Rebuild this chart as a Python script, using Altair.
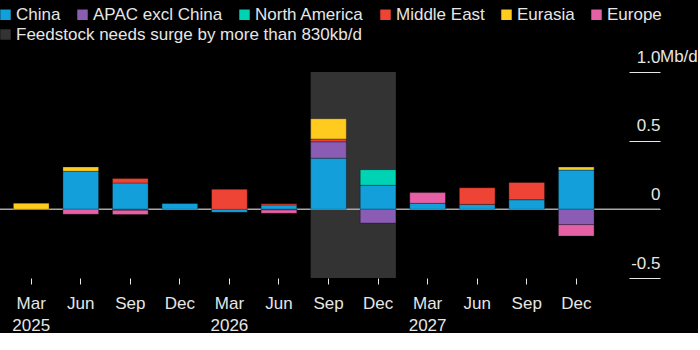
import altair as alt
import pandas as pd

# ---- data ----
periods = ["Mar 2025", "Jun 2025", "Sep 2025", "Dec 2025",
           "Mar 2026", "Jun 2026", "Sep 2026", "Dec 2026",
           "Mar 2027", "Jun 2027", "Sep 2027", "Dec 2027"]
series_names = ["China", "APAC excl China", "North America", "Middle East", "Eurasia", "Europe"]
china   = [0.000, 0.277, 0.192, 0.043, -0.022, 0.032, 0.372, 0.175, 0.044, 0.036, 0.070, 0.286]
apac    = [0.000, 0.000, -0.006, 0.000, 0.000, -0.005, 0.120, -0.100, 0.000, 0.000, 0.000, -0.112]
namer   = [0.000, 0.000, 0.000, 0.000, 0.000, 0.000, 0.000, 0.114, 0.000, 0.000, 0.000, 0.000]
mideast = [0.000, 0.000, 0.032, 0.000, 0.146, 0.009, 0.020, 0.000, 0.000, 0.121, 0.126, 0.000]
eurasia = [0.045, 0.032, 0.000, 0.000, 0.000, 0.000, 0.148, 0.000, 0.000, 0.000, 0.000, 0.022]
europe  = [0.000, -0.036, -0.032, 0.000, 0.000, -0.024, 0.000, 0.000, 0.078, 0.000, 0.000, -0.083]
series_colors = ["#129fda", "#8a5cb4", "#00d2b4", "#ee4435", "#ffcb1f", "#e660a5"]

shade_label = ["Feedstock needs surge by more than 830kb/d"]
shade_start = "Sep 2026"
shade_end = "Dec 2026"
shade_color = ["#333333"]

y_ticks = [-0.5, 0, 0.5, 1.0]
unit_label = ["Mb/d"]

rows = []
for si, (name, vals) in enumerate(zip(series_names, [china, apac, namer, mideast, eurasia, europe])):
    for p, v in zip(periods, vals):
        if v != 0:
            rows.append({"period": p, "series": name, "value": v, "order": si})
df = pd.DataFrame(rows)
shade_df = pd.DataFrame({"start": [shade_start], "end": [shade_end], "label": shade_label})
unit_df = pd.DataFrame({"u": unit_label})

# ---- style ----
FONT = "Liberation Sans"
TXT = "#e6e6e6"
FS = 17

color_scale = alt.Scale(domain=series_names, range=series_colors)
fill_scale = alt.Scale(domain=shade_label, range=shade_color)
x_scale = alt.Scale(domain=periods, paddingInner=0.28, paddingOuter=0.487, align=0.277)
y_scale = alt.Scale(domain=[-0.5, 1.0], nice=False, zero=False)

x_axis = alt.Axis(
    title=None, orient="bottom", domain=False, grid=False,
    tickSize=6, tickColor=TXT, tickWidth=1,
    labelPadding=11, labelFontSize=FS, labelFont=FONT, labelColor=TXT,
    labelAngle=0, labelLineHeight=22,
    labelExpr="indexof(datum.value, 'Mar') == 0 ? split(datum.value, ' ') : split(datum.value, ' ')[0]",
)
y_axis = alt.Axis(
    title=None, orient="right", values=y_ticks, domain=False, grid=False,
    tickSize=31, tickColor=TXT, tickWidth=1,
    labelAlign="right", labelBaseline="alphabetic", labelPadding=0, labelOffset=-10,
    labelFontSize=FS, labelFont=FONT, labelColor=TXT,
    labelExpr="datum.value == 0 ? '0' : (datum.value < 0 ? '-' + format(-datum.value, '.1f') : format(datum.value, '.1f'))",
)
legend_common = dict(
    title=None, orient="none", legendX=-3, direction="horizontal",
    symbolType="square", symbolSize=110,
    symbolStrokeWidth=0, labelFontSize=FS, labelFont=FONT, labelColor=TXT,
    labelOffset=2, columnPadding=13, padding=0, labelLimit=600,
)
legend_series = alt.Legend(legendY=-66, **legend_common)
legend_shade = alt.Legend(legendY=-46, **legend_common)

shade = alt.Chart(shade_df).mark_rect().encode(
    x=alt.X("start:N", scale=x_scale, axis=x_axis, bandPosition=0),
    x2=alt.X2("end:N", bandPosition=1),
    y=alt.YDatum(1.0, scale=y_scale, axis=y_axis),
    y2=alt.Y2Datum(-0.5),
    fill=alt.Fill("label:N", scale=fill_scale, legend=legend_shade),
)

zero = alt.Chart(shade_df).mark_rule(color="#a6a6a6", strokeWidth=1.5).encode(
    y=alt.YDatum(0, scale=y_scale, axis=y_axis),
    x=alt.value(0),
    x2=alt.value(660),
)

bars = alt.Chart(df).mark_bar(stroke="#000000", strokeOpacity=0.3, strokeWidth=1).encode(
    x=alt.X("period:N", scale=x_scale, axis=x_axis, sort=periods),
    y=alt.Y("value:Q", scale=y_scale, axis=y_axis, stack="zero"),
    color=alt.Color("series:N", scale=color_scale, legend=legend_series),
    order=alt.Order("order:Q"),
)

unit = alt.Chart(unit_df).mark_text(
    align="left", baseline="alphabetic", dy=-10, font=FONT, fontSize=FS, color=TXT
).encode(
    text="u:N",
    y=alt.YDatum(1.0, scale=y_scale, axis=y_axis),
    x=alt.value(660),
)

chart = alt.layer(shade, zero, bars, unit).properties(
    width=629, height=206, background="#000000",
    padding={"left": -3, "top": 6, "right": 0, "bottom": 0},
).resolve_scale(color="independent").configure_view(stroke=None)

chart.save("out.html", embed_options={"renderer": "svg", "actions": False})
